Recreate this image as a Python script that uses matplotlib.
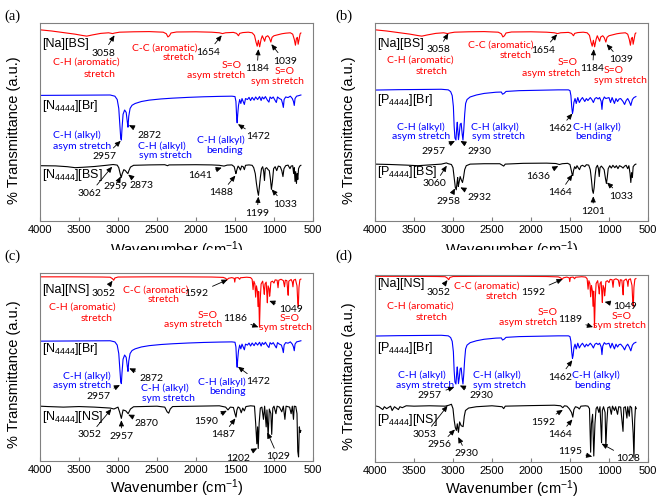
import matplotlib
matplotlib.use("Agg")
import matplotlib.pyplot as plt
from matplotlib.transforms import Bbox, TransformedBbox

plt.rcParams['font.family'] = ['Liberation Sans', 'DejaVu Sans']
plt.rcParams['mathtext.fontset'] = 'custom'
plt.rcParams['mathtext.rm'] = 'Liberation Sans'

RED = '#ff0000'
BLUE = '#0000ff'
NOTE_FONT = ['Lato', 'DejaVu Sans']

# ---- spectra (wavenumber, transmittance in stacked a.u.) ----
na_bs_wn = [4000, 3850, 3700, 3550, 3450, 3400, 3330, 3220, 3120, 3070, 3040, 2980, 2800, 2600, 2420,
            2380, 2360, 2340, 2320, 2250, 2000, 1800, 1700, 1660, 1620, 1520, 1480, 1455, 1440, 1400,
            1330, 1280, 1250, 1230, 1215, 1200, 1184, 1165, 1150, 1130, 1120, 1105, 1080, 1060, 1040,
            1025, 1000, 950, 900, 850, 790, 760, 740, 725, 712, 700, 690, 678, 665, 655]
na_bs_t = [96.8, 96.2, 95.4, 94.6, 93.9, 93.6, 94.2, 95.0, 95.3, 94.9, 95.2, 95.6, 95.8, 95.9, 95.6,
           94.8, 93.2, 93.8, 95.2, 95.7, 95.8, 95.6, 95.3, 94.9, 95.3, 95.5, 95.0, 93.8, 95.0, 95.4,
           95.6, 95.3, 94.0, 90.5, 88.5, 91.5, 88.2, 92.0, 93.8, 92.0, 91.0, 93.2, 93.8, 92.8, 90.6,
           93.0, 93.8, 94.3, 94.8, 95.1, 95.3, 94.6, 92.0, 89.0, 92.5, 93.0, 89.5, 92.0, 94.8, 95.2]

n4444_br_wn = [4000, 3500, 3100, 3040, 3010, 2990, 2975, 2965, 2957, 2948, 2935, 2915, 2895, 2880, 2872,
               2862, 2845, 2820, 2780, 2700, 2600, 2450, 2300, 2100, 1900, 1700, 1540, 1500, 1488, 1478,
               1472, 1465, 1455, 1440, 1425, 1410, 1395, 1380, 1365, 1340, 1320, 1300, 1280, 1255, 1235,
               1210, 1185, 1165, 1150, 1130, 1110, 1085, 1065, 1050, 1030, 1010, 985, 970, 955, 930,
               905, 890, 880, 870, 850, 820, 790, 765, 750, 740, 730, 710, 680, 655]
n4444_br_t = [63.6, 63.7, 63.8, 63.2, 61.5, 57.0, 48.0, 42.0, 41.0, 47.0, 54.0, 56.2, 55.0, 50.0, 47.5,
              53.0, 57.0, 58.6, 59.5, 60.5, 61.2, 61.8, 62.2, 62.6, 62.9, 63.1, 63.2, 63.0, 60.5, 52.0,
              49.7, 54.0, 58.5, 61.5, 59.5, 62.0, 60.5, 59.0, 62.0, 61.5, 62.6, 61.0, 62.6, 61.2, 62.8,
              61.5, 63.0, 61.0, 62.8, 61.8, 63.0, 61.2, 60.2, 62.8, 62.0, 62.8, 61.0, 60.0, 62.8, 62.0,
              61.5, 59.5, 57.5, 61.5, 62.8, 62.5, 63.2, 62.0, 60.5, 58.5, 62.0, 63.2, 63.5, 63.8]

n4444_bs_wn = [4000, 3800, 3650, 3550, 3450, 3300, 3150, 3062, 3010, 2990, 2975, 2959, 2945, 2925, 2905,
               2885, 2873, 2860, 2840, 2800, 2600, 2400, 2365, 2345, 2000, 1800, 1700, 1641, 1600, 1540,
               1510, 1495, 1488, 1475, 1460, 1445, 1430, 1415, 1395, 1380, 1365, 1320, 1280, 1260, 1240,
               1225, 1210, 1199, 1188, 1175, 1160, 1145, 1132, 1122, 1112, 1095, 1075, 1060, 1045, 1033,
               1020, 1005, 985, 965, 945, 920, 900, 885, 872, 850, 820, 795, 780, 760, 748,
               740, 730, 722, 712, 703, 695, 685, 670, 655]
n4444_bs_t = [28.0, 27.9, 27.5, 27.0, 27.2, 27.6, 28.2, 28.6, 28.3, 27.0, 24.5, 22.0, 24.0, 26.0, 25.5,
              24.5, 24.0, 25.5, 27.3, 28.2, 28.4, 28.5, 28.0, 28.4, 28.5, 28.4, 28.2, 27.8, 28.3, 28.4,
              27.5, 25.0, 24.0, 26.0, 27.8, 27.0, 25.8, 27.8, 27.5, 26.0, 28.2, 28.4, 28.2, 27.0, 24.0,
              19.0, 15.0, 13.0, 17.0, 22.0, 26.5, 27.5, 25.0, 20.5, 26.5, 27.0, 26.0, 25.5, 21.0, 16.0,
              20.0, 26.5, 27.5, 25.5, 27.8, 27.5, 25.5, 22.5, 26.5, 28.0, 28.3, 26.5, 27.8, 28.0, 24.0,
              27.0, 20.0, 25.0, 19.0, 24.0, 21.0, 26.5, 27.8, 28.2]

p4444_br_wn = [4000, 3700, 3400, 3150, 3060, 3030, 3010, 2995, 2985, 2975, 2962, 2952, 2945, 2938, 2930,
               2920, 2908, 2895, 2882, 2872, 2862, 2850, 2838, 2820, 2780, 2700, 2600, 2450, 2380, 2365,
               2345, 2320, 2150, 1900, 1650, 1520, 1500, 1488, 1478, 1468, 1460, 1450, 1435, 1420, 1400,
               1380, 1360, 1340, 1310, 1290, 1270, 1240, 1220, 1200, 1180, 1160, 1140, 1120, 1100, 1090,
               1080, 1060, 1040, 1000, 980, 960, 930, 910, 890, 870, 850, 820, 800, 780, 760,
               740, 720, 700, 680, 655]
p4444_br_t = [66.3, 66.5, 66.6, 66.7, 66.4, 65.5, 63.5, 58.0, 48.0, 42.0, 41.0, 47.0, 50.0, 46.0, 41.2,
              44.0, 49.0, 49.5, 44.0, 41.0, 46.0, 54.0, 59.5, 61.5, 62.8, 63.8, 64.6, 65.2, 65.3, 64.2,
              64.6, 65.6, 66.0, 66.2, 66.4, 66.4, 66.0, 63.5, 58.0, 54.5, 56.0, 60.0, 62.0, 59.5, 62.5,
              60.0, 61.5, 62.5, 60.5, 62.0, 61.0, 62.5, 61.5, 60.0, 62.0, 62.5, 61.8, 62.5, 60.5, 56.5,
              61.0, 62.8, 62.0, 62.5, 60.0, 62.5, 59.5, 62.0, 60.5, 61.8, 62.0, 60.5, 59.0, 61.0, 62.0,
              60.5, 58.5, 61.5, 62.5, 63.0]

p4444_bs_wn = [4000, 3800, 3600, 3450, 3300, 3150, 3085, 3060, 3020, 3000, 2985, 2970, 2958, 2948, 2940,
               2932, 2922, 2908, 2895, 2878, 2865, 2850, 2830, 2780, 2600, 2400, 2370, 2350, 2330, 2100,
               1800, 1680, 1636, 1600, 1530, 1500, 1485, 1472, 1464, 1455, 1440, 1425, 1410, 1395, 1378,
               1360, 1340, 1310, 1290, 1260, 1240, 1225, 1212, 1201, 1190, 1178, 1165, 1148, 1135, 1125,
               1115, 1098, 1080, 1062, 1045, 1033, 1022, 1010, 990, 970, 950, 925, 905, 885, 865,
               840, 820, 800, 780, 760, 745, 730, 720, 710, 700, 690, 670, 655]
p4444_bs_t = [28.8, 28.6, 28.3, 28.0, 28.4, 28.8, 29.4, 29.0, 28.6, 27.0, 22.0, 17.0, 15.8, 19.5, 22.0,
              17.5, 19.5, 22.5, 21.0, 19.5, 22.0, 26.0, 28.0, 28.8, 29.0, 29.0, 28.3, 27.8, 28.8, 29.2,
              29.3, 29.1, 28.6, 29.0, 29.2, 28.6, 26.0, 23.5, 23.0, 25.5, 27.5, 26.5, 28.0, 27.0, 26.0,
              27.8, 28.2, 27.5, 28.5, 28.3, 26.0, 21.0, 15.5, 14.0, 17.0, 23.0, 27.0, 28.2, 26.5, 22.5,
              27.0, 27.8, 27.0, 26.0, 21.5, 19.0, 22.0, 26.5, 28.0, 26.8, 28.2, 27.0, 28.0, 26.5, 28.0,
              27.5, 26.8, 27.8, 28.2, 26.5, 28.0, 24.0, 19.5, 24.5, 22.0, 27.5, 28.5, 28.8]

na_ns_wn = [4000, 3600, 3200, 3100, 3070, 3055, 3040, 3000, 2600, 2200, 1800, 1650, 1620, 1600, 1585,
            1540, 1510, 1503, 1495, 1460, 1440, 1430, 1350, 1300, 1280, 1268, 1258, 1245, 1235, 1225,
            1212, 1205, 1196, 1186, 1176, 1165, 1145, 1132, 1124, 1115, 1100, 1092, 1085, 1076, 1063,
            1056, 1049, 1040, 1020, 1000, 985, 960, 948, 938, 910, 880, 865, 855, 835, 825,
            818, 810, 780, 765, 757, 748, 725, 705, 695, 688, 680, 668, 655]
na_ns_t = [97.8, 97.8, 97.7, 97.6, 96.8, 96.0, 97.2, 97.7, 97.8, 97.8, 97.7, 97.5, 97.0, 96.2, 97.0,
           97.4, 97.0, 95.0, 97.2, 97.4, 96.5, 97.3, 97.6, 97.4, 96.5, 91.0, 95.5, 94.0, 87.0, 93.0,
           90.0, 82.0, 90.0, 71.0, 86.0, 94.0, 95.5, 91.5, 88.5, 94.0, 95.0, 89.0, 84.0, 93.0, 91.5,
           87.5, 90.0, 95.0, 95.5, 94.5, 96.2, 96.0, 92.0, 96.0, 96.5, 95.8, 92.5, 96.0, 95.8, 91.0,
           88.0, 95.5, 96.4, 95.0, 92.5, 96.0, 96.5, 93.0, 84.0, 82.0, 92.0, 96.3, 96.6]

n4444_ns_wn = [4000, 3900, 3700, 3500, 3300, 3100, 3052, 3000, 2980, 2957, 2935, 2900, 2870, 2840, 2800,
               2500, 2400, 2370, 2350, 2330, 2300, 2000, 1700, 1620, 1590, 1560, 1520, 1500, 1487, 1475,
               1460, 1440, 1420, 1400, 1380, 1360, 1300, 1250, 1235, 1220, 1210, 1202, 1190, 1175, 1155,
               1135, 1120, 1100, 1090, 1075, 1060, 1040, 1029, 1015, 1000, 975, 960, 930, 900, 880,
               860, 845, 800, 780, 765, 750, 740, 720, 705, 695, 685, 675, 665, 655]
n4444_ns_t = [29.0, 28.8, 28.5, 28.8, 28.5, 28.0, 27.5, 28.5, 26.0, 22.5, 27.0, 26.5, 25.0, 27.5, 28.7,
              29.0, 28.5, 26.0, 25.3, 27.5, 28.8, 29.0, 29.2, 28.5, 27.0, 28.5, 28.3, 25.0, 23.2, 27.0,
              28.6, 28.0, 25.5, 28.0, 26.5, 28.8, 29.2, 29.0, 20.0, 9.0, 18.0, 6.5, 20.0, 28.0, 28.5,
              22.0, 29.0, 18.0, 27.0, 13.0, 27.5, 25.0, 14.0, 28.0, 29.0, 25.0, 29.0, 28.5, 26.0, 29.0,
              22.0, 29.0, 28.5, 25.0, 29.0, 22.0, 29.0, 28.8, 25.0, 5.0, 2.0, 18.0, 15.0, 16.0]

p4444_ns_wn = [4000, 3950, 3900, 3880, 3850, 3800, 3780, 3750, 3700, 3680, 3650, 3600, 3500, 3300, 3100,
               3053, 3020, 3000, 2985, 2970, 2956, 2945, 2930, 2915, 2895, 2870, 2855, 2840, 2800, 2700,
               2500, 2370, 2350, 2330, 2000, 1700, 1620, 1592, 1570, 1540, 1510, 1480, 1464, 1450, 1430,
               1400, 1380, 1360, 1300, 1270, 1250, 1235, 1225, 1210, 1195, 1180, 1165, 1150, 1130, 1115,
               1095, 1085, 1070, 1050, 1040, 1028, 1015, 990, 970, 955, 930, 915, 890, 875, 850,
               820, 810, 790, 770, 760, 740, 730, 710, 690, 680, 670, 660, 650]
p4444_ns_t = [29.5, 29.0, 27.5, 29.0, 28.0, 29.3, 27.0, 29.0, 27.5, 29.0, 28.5, 29.5, 29.3, 29.5, 29.3,
              29.8, 30.3, 28.0, 22.0, 18.0, 16.5, 20.0, 15.5, 21.0, 19.0, 18.5, 24.0, 27.0, 28.3, 29.0,
              29.5, 29.0, 28.0, 29.3, 29.6, 29.8, 29.5, 28.5, 29.5, 29.3, 28.0, 26.0, 23.5, 27.5, 29.0,
              28.6, 27.8, 29.3, 29.5, 29.3, 28.0, 5.0, 20.0, 25.0, 3.0, 20.0, 28.0, 29.0, 26.0, 29.0,
              10.0, 27.0, 29.0, 26.0, 8.0, 20.0, 28.5, 29.0, 25.0, 29.3, 27.0, 29.0, 25.0, 29.0, 28.8,
              16.0, 28.5, 29.0, 23.0, 29.0, 24.0, 29.3, 28.5, 15.0, 2.0, 22.0, 29.0, 28.0]

n4444 = r'N$\mathregular{_{4444}}$'
p4444 = r'P$\mathregular{_{4444}}$'


def draw_panel(ax, spectra, names, notes, peaks, ytop=100):
    for wn, t, c in spectra:
        ax.plot(wn, t, color=c, lw=0.8)
    for name, y in names:
        ax.text(3975, y, name, fontsize=9, ha='left', va='center')
    # descriptive notes, one line each
    for txt, c, x, y in notes:
        ax.text(x, y, txt, color=c, fontsize=7.5, ha='center', va='center', family=NOTE_FONT)
    # peak numbers with arrows
    for txt, hx, hy, tx, ty in peaks:
        ax.annotate(txt, xy=(hx, hy), xytext=(tx, ty), fontsize=7.5, ha='center', va='center',
                    family=NOTE_FONT,
                    arrowprops=dict(arrowstyle='-|>,head_length=0.45,head_width=0.2', color='k',
                                    lw=0.6, shrinkA=1, shrinkB=0))
    ax.set_xlim(4000, 500)
    ax.set_ylim(0, ytop)
    ax.set_xticks(range(4000, 499, -500))
    ax.set_yticks([])
    ax.tick_params(axis='x', direction='in', length=3, color='#808080', labelsize=8, pad=3)
    for s in ax.spines.values():
        s.set_color('#808080')
        s.set_linewidth(0.8)
    ax.set_xlabel(r'Wavenumber (cm$\mathregular{^{-1}}$)', fontsize=10.5, labelpad=2)
    ax.set_ylabel('% Transmittance (a.u.)', fontsize=10.5)
    ax.yaxis.set_label_coords(-0.07, 0.46)


fig = plt.figure(figsize=(6.61, 5.0), dpi=100)
ax_a = fig.add_axes([0.0605, 0.558, 0.413, 0.395])
ax_b = fig.add_axes([0.5673, 0.558, 0.413, 0.395])
ax_c = fig.add_axes([0.0605, 0.0786, 0.413, 0.376])
ax_d = fig.add_axes([0.5673, 0.0766, 0.413, 0.3734])

# (a)
draw_panel(ax_a,
           [(na_bs_wn, na_bs_t, RED), (n4444_br_wn, n4444_br_t, BLUE), (n4444_bs_wn, n4444_bs_t, 'k')],
           [('[Na][BS]', 89.7), ('[' + n4444 + '][Br]', 58.0), ('[' + n4444 + '][BS]', 23.2)],
           [('C-H (aromatic)', RED, 3402, 80.5), ('stretch', RED, 3232, 74.2),
            ('C-C (aromatic)', RED, 2400, 87.7), ('stretch', RED, 2229, 82.7),
            ('S=O', RED, 1546, 78.8), ('asym stretch', RED, 1747, 73.7),
            ('S=O', RED, 863, 75.9), ('sym stretch', RED, 961, 70.4),
            ('C-H (alkyl)', BLUE, 3531, 43.4), ('asym stretch', BLUE, 3466, 37.9),
            ('C-H (alkyl)', BLUE, 2434, 37.9), ('sym stretch', BLUE, 2391, 33.3),
            ('C-H (alkyl)', BLUE, 1687, 40.9), ('bending', BLUE, 1631, 35.9)],
           [('3058', 3045, 94.0, 3189, 85.0), ('1654', 1670, 94.0, 1845, 85.5),
            ('1184', 1200, 87.0, 1217, 77.0), ('1039', 1034, 89.5, 863, 81.0),
            ('2957', 2965, 40.6, 3168, 32.8), ('2872', 2860, 48.5, 2591, 43.4),
            ('1472', 1462, 49.0, 1204, 42.6),
            ('3062', 3075, 27.5, 3360, 14.0), ('2959', 2965, 22.5, 3030, 17.5),
            ('2873', 2869, 23.5, 2698, 18.2), ('1641', 1670, 27.0, 1951, 23.2),
            ('1488', 1495, 23.0, 1674, 14.3), ('1199', 1200, 12.3, 1217, 3.9),
            ('1033', 1030, 16.0, 863, 8.6)])

# (b)
draw_panel(ax_b,
           [(na_bs_wn, na_bs_t, RED), (p4444_br_wn, p4444_br_t, BLUE), (p4444_bs_wn, p4444_bs_t, 'k')],
           [('[Na][BS]', 89.7), ('[' + p4444 + '][Br]', 61.1), ('[' + p4444 + '][BS]', 24.6)],
           [('C-H (aromatic)', RED, 3424, 81.3), ('stretch', RED, 3274, 75.8),
            ('C-C (aromatic)', RED, 2390, 89.2), ('stretch', RED, 2199, 83.8),
            ('S=O', RED, 1525, 80.1), ('asym stretch', RED, 1738, 74.9),
            ('S=O', RED, 945, 76.3), ('sym stretch', RED, 854, 71.2),
            ('C-H (alkyl)', BLUE, 3415, 47.6), ('asym stretch', BLUE, 3415, 42.6),
            ('C-H (alkyl)', BLUE, 2463, 47.6), ('sym stretch', BLUE, 2421, 42.6),
            ('C-H (alkyl)', BLUE, 1153, 47.6), ('bending', BLUE, 1196, 42.6)],
           [('3058', 3060, 95.0, 3189, 86.7), ('1654', 1665, 94.5, 1845, 86.4),
            ('1184', 1195, 87.0, 1210, 77.1), ('1039', 1030, 89.5, 850, 81.6),
            ('2957', 2975, 40.5, 3253, 35.0), ('2930', 2905, 40.5, 2656, 35.0),
            ('1462', 1469, 54.4, 1631, 46.8),
            ('3060', 3080, 28.0, 3232, 18.8), ('2958', 2975, 16.5, 3061, 9.8),
            ('2932', 2905, 17.0, 2656, 12.0), ('1636', 1650, 27.8, 1909, 22.4),
            ('1464', 1469, 23.5, 1631, 14.3), ('1201', 1201, 12.5, 1204, 4.7),
            ('1033', 1025, 19.5, 842, 12.6)])

# (c)
draw_panel(ax_c,
           [(na_ns_wn, na_ns_t, RED), (n4444_br_wn, n4444_br_t, BLUE), (n4444_ns_wn, n4444_ns_t, 'k')],
           [('[Na][NS]', 90.8), ('[' + n4444 + '][Br]', 59.4), ('[' + n4444 + '][NS]', 23.4)],
           [('C-H (aromatic)', RED, 3458, 81.9), ('stretch', RED, 3274, 75.7),
            ('C-C (aromatic)', RED, 2519, 90.8), ('stretch', RED, 2412, 85.5),
            ('S=O', RED, 1845, 77.5), ('asym stretch', RED, 2037, 72.2),
            ('S=O', RED, 799, 75.7), ('sym stretch', RED, 855, 70.7),
            ('C-H (alkyl)', BLUE, 3402, 45.0), ('asym stretch', BLUE, 3466, 39.9),
            ('C-H (alkyl)', BLUE, 2400, 38.5), ('sym stretch', BLUE, 2357, 33.2),
            ('C-H (alkyl)', BLUE, 1674, 42.0), ('bending', BLUE, 1601, 36.7)],
           [('3052', 3070, 95.7, 3189, 89.0), ('1592', 1595, 96.3, 1994, 89.0),
            ('1186', 1200, 71.0, 1503, 75.7), ('1049', 1060, 85.0, 778, 80.5),
            ('2957', 2975, 40.2, 3253, 34.4), ('2872', 2855, 49.1, 2570, 43.8),
            ('1472', 1462, 50.0, 1204, 42.0),
            ('3052', 3085, 27.5, 3360, 13.7), ('2957', 2957, 21.5, 2954, 12.8),
            ('2870', 2869, 24.5, 2634, 19.9), ('1590', 1605, 26.6, 1866, 20.7),
            ('1487', 1495, 22.5, 1653, 13.7), ('1202', 1215, 6.6, 1461, 1.2),
            ('1029', 1085, 15.0, 948, 2.1)])

# (d)
draw_panel(ax_d,
           [(na_ns_wn, na_ns_t, RED), (p4444_br_wn, p4444_br_t, BLUE), (p4444_ns_wn, p4444_ns_t, 'k')],
           [('[Na][NS]', 93.5), ('[' + p4444 + '][Br]', 59.8), ('[' + p4444 + '][NS]', 22.0)],
           [('C-H (aromatic)', RED, 3424, 82.1), ('stretch', RED, 3274, 75.9),
            ('C-C (aromatic)', RED, 2570, 92.5), ('stretch', RED, 2378, 87.0),
            ('S=O', RED, 1781, 78.6), ('asym stretch', RED, 2037, 73.2),
            ('S=O', RED, 842, 76.8), ('sym stretch', RED, 863, 71.8),
            ('C-H (alkyl)', BLUE, 3394, 45.5), ('asym stretch', BLUE, 3360, 40.2),
            ('C-H (alkyl)', BLUE, 2442, 45.5), ('sym stretch', BLUE, 2400, 40.2),
            ('C-H (alkyl)', BLUE, 1162, 45.5), ('bending', BLUE, 1205, 40.2)],
           [('3052', 3070, 95.8, 3189, 89.5), ('1592', 1595, 96.3, 1973, 89.5),
            ('1189', 1205, 71.0, 1503, 75.0), ('1049', 1055, 84.3, 799, 82.0),
            ('2957', 2985, 39.3, 3296, 34.8), ('2930', 2912, 40.2, 2634, 34.8),
            ('1462', 1470, 53.5, 1631, 44.6),
            ('3053', 3070, 29.5, 3360, 14.3), ('2956', 2975, 17.0, 3168, 8.9),
            ('2930', 2933, 13.0, 2826, 4.1), ('1592', 1592, 27.3, 1845, 20.9),
            ('1464', 1469, 22.3, 1631, 14.3), ('1195', 1215, 2.7, 1503, 5.4),
            ('1028', 1095, 9.5, 756, 1.8)],
           ytop=98.5)

# the top panels' x labels are cut at the middle of the figure
clip = TransformedBbox(Bbox([[0, 0.5], [1, 1]]), fig.transFigure)
for ax in (ax_a, ax_b):
    ax.xaxis.labelpad = 3
    ax.xaxis.label.set_clip_on(True)
    ax.xaxis.label.set_clip_box(clip)

for lab, x, y in [('(a)', 0.006, 0.968), ('(b)', 0.508, 0.968), ('(c)', 0.006, 0.487), ('(d)', 0.508, 0.487)]:
    fig.text(x, y, lab, fontsize=10.5, family=['Liberation Serif', 'DejaVu Serif'], va='center')

fig.savefig('out.png', dpi=100)
